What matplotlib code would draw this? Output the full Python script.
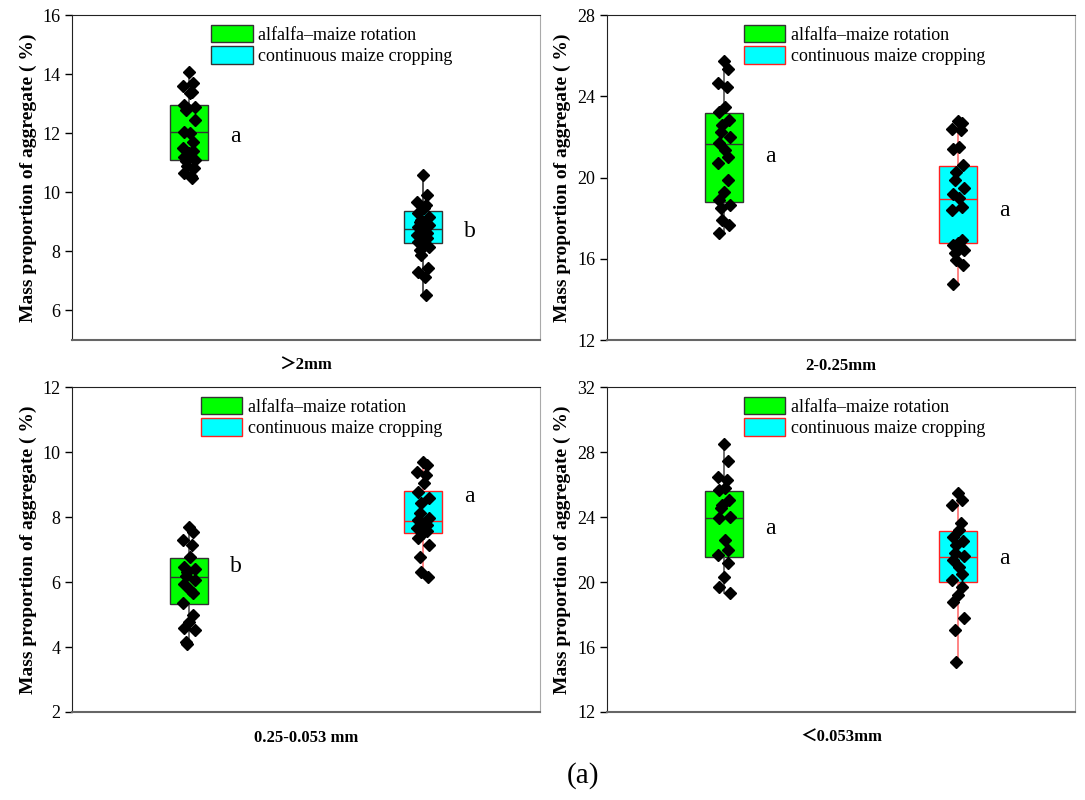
import numpy as np
import matplotlib.pyplot as plt
from matplotlib.patches import Patch

plt.rcParams['font.family'] = ['Liberation Serif', 'Noto Sans CJK SC', 'DejaVu Sans']

groups = ['alfalfa–maize rotation', 'continuous maize cropping']
size_classes = ['＞2mm', '2-0.25mm', '0.25-0.053 mm', '＜0.053mm']
ylims = [(5, 16), (12, 28), (2, 12), (12, 32)]
yticks = [[6, 8, 10, 12, 14, 16], [12, 16, 20, 24, 28],
          [2, 4, 6, 8, 10, 12], [12, 16, 20, 24, 28, 32]]
letters = [['a', 'b'], ['a', 'a'], ['b', 'a'], ['a', 'a']]
letter_y = [[11.9, 8.69], [21.06, 18.4], [6.49, 8.62], [23.32, 21.48]]

# box stats: (whislo, q1, median, q3, whishi)
box_stats = [
    [(10.48, 11.09, 12.04, 12.95, 14.1), (6.52, 8.28, 8.76, 9.37, 10.58)],
    [(17.27, 18.82, 21.65, 23.18, 25.75), (14.76, 16.76, 18.97, 20.57, 22.8)],
    [(4.08, 5.32, 6.16, 6.73, 7.7), (6.16, 7.5, 7.88, 8.8, 9.7)],
    [(19.34, 21.56, 23.92, 25.6, 28.53), (15.1, 20.02, 21.56, 23.14, 25.46)],
]

# individual observations
points = [
    [[14.08, 13.7, 13.6, 13.4, 13.36, 12.95, 12.9, 12.85, 12.8, 12.45, 12.05,
      12.0, 11.7, 11.5, 11.4, 11.33, 11.2, 11.1, 11.05, 10.9, 10.82, 10.65,
      10.55, 10.5],
     [10.58, 9.9, 9.67, 9.57, 9.47, 9.3, 9.16, 9.05, 9.0, 8.9, 8.83, 8.7,
      8.62, 8.55, 8.45, 8.35, 8.31, 8.15, 8.05, 7.88, 7.44, 7.3, 7.13, 6.52]],
    [[25.75, 25.34, 24.65, 24.45, 23.47, 23.22, 22.83, 22.58, 22.24, 21.99,
      21.7, 21.35, 21.0, 20.71, 19.88, 19.29, 18.9, 18.65, 18.5, 17.9, 17.66,
      17.27],
     [22.8, 22.7, 22.4, 22.34, 21.5, 21.4, 20.6, 20.27, 19.88, 19.48, 19.2,
      18.99, 18.55, 18.4, 16.92, 16.8, 16.67, 16.43, 16.3, 15.94, 15.69,
      14.76]],
    [[7.7, 7.55, 7.29, 7.14, 6.78, 6.47, 6.4, 6.32, 6.2, 6.06, 5.95, 5.75,
      5.66, 5.35, 4.98, 4.78, 4.6, 4.52, 4.15, 4.08],
     [9.7, 9.6, 9.39, 9.29, 9.05, 8.78, 8.6, 8.43, 8.12, 7.97, 7.9, 7.82,
      7.75, 7.66, 7.58, 7.5, 7.35, 7.14, 6.78, 6.32, 6.16]],
    [[28.53, 27.45, 26.48, 26.28, 25.78, 25.66, 25.05, 24.74, 24.55, 24.02,
      23.93, 22.58, 21.97, 21.66, 21.17, 20.33, 19.71, 19.34],
     [25.46, 25.05, 24.74, 23.61, 23.2, 22.79, 22.5, 22.28, 21.77, 21.6,
      21.35, 20.94, 20.5, 20.12, 19.71, 19.2, 18.79, 17.77, 17.05, 15.1]],
]

fill_colors = ['#00ff00', '#00ffff']
positions = [1, 2]

fig = plt.figure(figsize=(10.85, 8), dpi=100)
rects = [[0.0664, 0.575, 0.4313, 0.406], [0.5594, 0.575, 0.4313, 0.406],
         [0.0664, 0.11, 0.4313, 0.406], [0.5594, 0.11, 0.4313, 0.406]]

for k in range(4):
    ax = fig.add_axes(rects[k])
    # cyan series has black outline only in the first panel
    edge2 = '#333333' if k == 0 else '#ff2020'
    whisk2 = '#333333' if k == 0 else '#ff7070'
    edges = ['#333333', edge2]
    whisks = ['#555555', whisk2]
    for i in range(2):
        lo, q1, med, q3, hi = box_stats[k][i]
        st = [dict(whislo=lo, q1=q1, med=med, q3=q3, whishi=hi, fliers=[])]
        ax.bxp(st, positions=[positions[i]], widths=0.16, patch_artist=True,
               showcaps=False,
               boxprops=dict(facecolor=fill_colors[i], edgecolor=edges[i], linewidth=1.0),
               medianprops=dict(color=edges[i], linewidth=1.0),
               whiskerprops=dict(color=whisks[i], linewidth=1.2),
               zorder=2)
        y = np.array(points[k][i])
        jitter = 0.025 * np.sin(np.arange(len(y)) * 2.3)
        ax.plot(positions[i] + jitter, y, 'D', color='black', markersize=6,
                zorder=3, clip_on=False)
        ax.text(positions[i] + 0.2, letter_y[k][i], letters[k][i],
                fontsize=17, ha='center', va='center')

    ax.set_xlim(0.5, 2.5)
    ax.set_ylim(*ylims[k])
    ax.set_yticks(yticks[k])
    ax.set_xticks([])
    ax.tick_params(axis='y', labelsize=13, direction='out', length=5, width=1)
    ax.set_ylabel('Mass proportion of aggregate ( %)', fontsize=14,
                  fontweight='bold', labelpad=4)
    ax.set_xlabel(size_classes[k], fontsize=12, fontweight='bold', labelpad=13)
    ax.spines['left'].set_color('#222222')
    ax.spines['top'].set_color('#222222')
    ax.spines['bottom'].set_color('#666666')
    ax.spines['bottom'].set_linewidth(1.5)
    ax.spines['right'].set_color('#aaaaaa')

    handles = [Patch(facecolor=fill_colors[0], edgecolor='#333333', label=groups[0]),
               Patch(facecolor=fill_colors[1], edgecolor=edge2, label=groups[1])]
    lx = 0.297 if k == 0 else (0.275 if k == 2 else 0.292)
    ax.legend(handles=handles, loc='upper left', bbox_to_anchor=(lx, 0.97),
              frameon=False, fontsize=13, borderpad=0, borderaxespad=0,
              handlelength=2.3, handleheight=1.1, labelspacing=0.15,
              handletextpad=0.3)

fig.text(0.537, 0.031, '(a)', fontsize=21, ha='center', va='center')

fig.savefig('out.png', dpi=100)
